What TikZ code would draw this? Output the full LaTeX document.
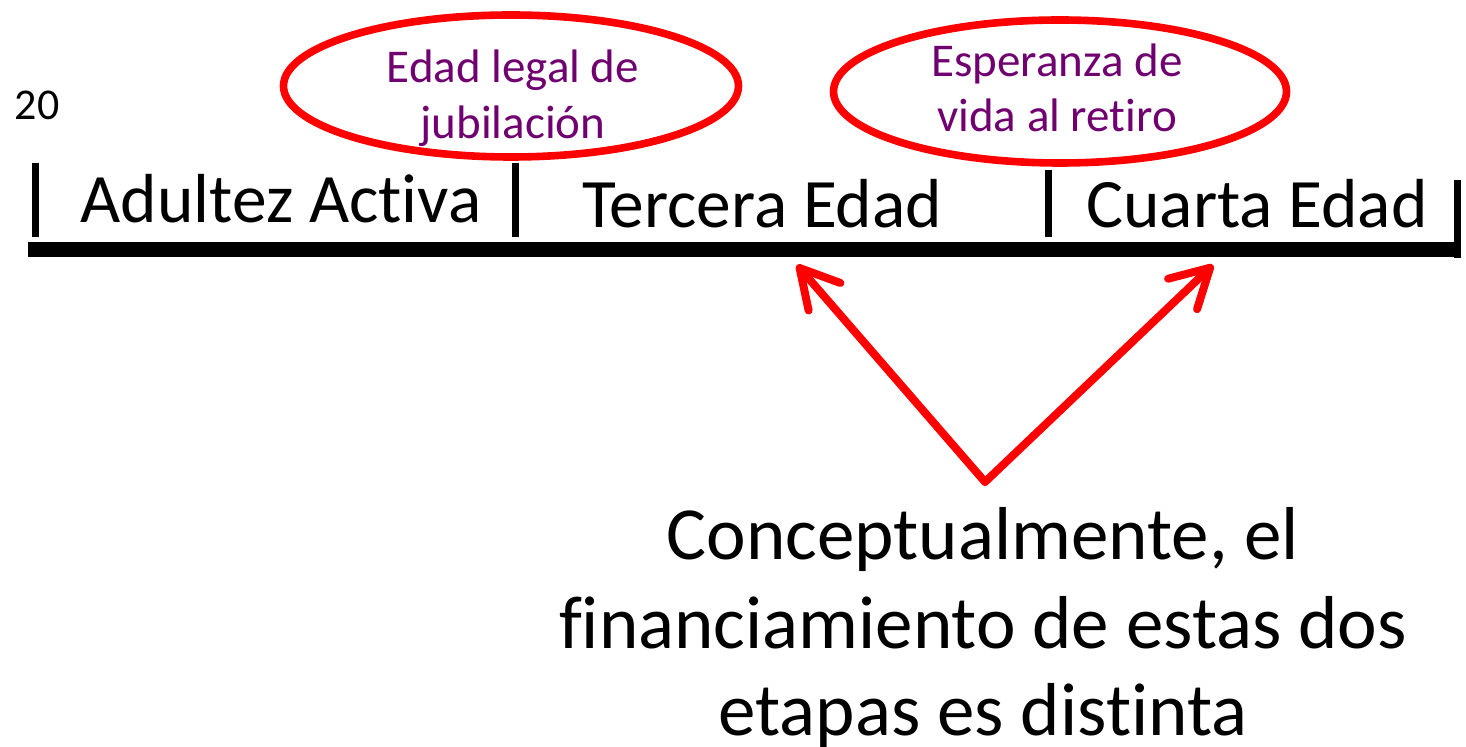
\documentclass[tikz,border=0pt]{standalone}
\usepackage{fontspec}
\setmainfont[Ligatures=NoCommon]{Carlito}
\usetikzlibrary{arrows.meta,shapes.geometric}
\definecolor{lblpurple}{RGB}{112,0,112}
\definecolor{pptred}{RGB}{255,0,0}
\begin{document}
\begin{tikzpicture}[x=0.5pt,y=-0.5pt,
  stage/.style={inner sep=0pt,anchor=base,font=\fontsize{34.7}{40}\selectfont},
  lbl/.style={inner sep=0pt,anchor=base,text=lblpurple,font=\fontsize{23.5}{28}\selectfont},
  big/.style={inner sep=0pt,anchor=base,font=\fontsize{37.5}{44}\selectfont},
  oval/.style={ellipse,draw=pptred,line width=3.8pt,inner sep=0pt,outer sep=0pt},
  tick/.style={line width=3.5pt},
  pointer/.style={draw=pptred,line width=4pt,line cap=round,line join=round,
     -{Straight Barb[length=19pt,width=21pt,line cap=round,line join=round]}}]
\useasboundingbox (0,0) rectangle (1466,747);
% ellipses
\node[oval,minimum width=227.5pt,minimum height=71pt] (e1) at (511,86) {};
\node[oval,minimum width=226.5pt,minimum height=71.5pt] (e2) at (1060,91.5) {};
\node[lbl] (l1a) at (513,83) {Edad legal de};
\node[lbl] (l1b) at (513,139) {jubilación};
\node[lbl] (l2a) at (1057,77) {Esperanza de};
\node[lbl] (l2b) at (1057,132) {vida al retiro};
% age
\node[inner sep=0pt,anchor=base,font=\fontsize{22}{26}\selectfont] (age) at (37,120) {20};
% timeline
\coordinate (tl0) at (28,250);
\coordinate (tl1) at (1461,250);
\draw[line width=7.5pt] (tl0) -- (tl1);
\coordinate (t1a) at (35,163); \coordinate (t1b) at (35,237);
\coordinate (t2a) at (515,163); \coordinate (t2b) at (515,237);
\coordinate (t3a) at (1048,170); \coordinate (t3b) at (1048,237);
\coordinate (t4a) at (1457,180); \coordinate (t4b) at (1457,258);
\draw[tick] (t1a) -- (t1b);
\draw[tick] (t2a) -- (t2b);
\draw[tick] (t3a) -- (t3b);
\draw[tick] (t4a) -- (t4b);
\node[stage] (s1) at (281,223) {Adultez Activa};
\node[stage] (s2) at (762,228) {Tercera Edad};
\node[stage] (s3) at (1257,228) {Cuarta Edad};
% bottom text
\node[big] (c1) at (983,560) {Conceptualmente, el};
\node[big] (c2) at (983,648) {financiamiento de estas dos};
\node[big] (c3) at (983,735) {etapas es distinta};
% arrows
\coordinate (apex) at (985,482);
\coordinate (tipL) at (797,265);
\coordinate (tipR) at (1213,265);
\draw[pointer] (apex) -- (tipL);
\draw[pointer] (apex) -- (tipR);
\end{tikzpicture}
\end{document}
